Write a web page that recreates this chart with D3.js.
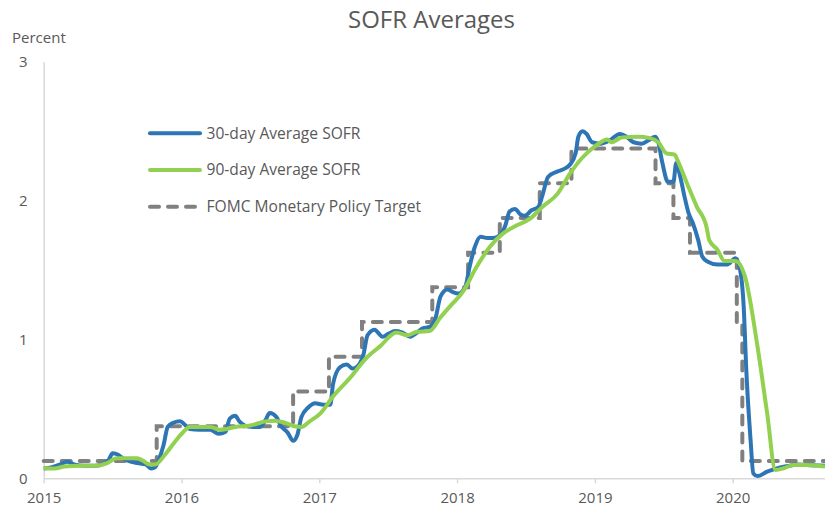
<!DOCTYPE html>
<html>
<head>
<meta charset="utf-8">
<script src="https://cdn.jsdelivr.net/npm/d3@7"></script>
<style>
  html, body { margin: 0; padding: 0; background: #fff; }
  svg { display: block; }
  text { font-family: 'Open Sans', 'DejaVu Sans', sans-serif; fill: #595959; }
</style>
</head>
<body>
<svg id="chart" width="825" height="510"></svg>
<script>
// ---- Data (x = decimal year as positioned on the chart, y = percent) ----
const sofr30Years = [2015.00,2015.06,2015.12,2015.17,2015.22,2015.30,2015.37,2015.42,2015.47,2015.50,2015.54,2015.58,2015.63,2015.68,2015.74,2015.78,2015.81,2015.83,2015.87,2015.90,2015.94,2015.99,2016.03,2016.06,2016.13,2016.21,2016.27,2016.32,2016.35,2016.39,2016.42,2016.46,2016.52,2016.57,2016.61,2016.64,2016.69,2016.72,2016.77,2016.81,2016.84,2016.87,2016.92,2016.97,2017.03,2017.08,2017.10,2017.15,2017.20,2017.24,2017.28,2017.32,2017.35,2017.40,2017.46,2017.50,2017.55,2017.60,2017.66,2017.71,2017.75,2017.80,2017.84,2017.88,2017.93,2017.97,2018.01,2018.06,2018.09,2018.13,2018.17,2018.22,2018.26,2018.31,2018.35,2018.38,2018.42,2018.46,2018.49,2018.54,2018.59,2018.62,2018.66,2018.73,2018.78,2018.82,2018.86,2018.88,2018.91,2018.94,2018.98,2019.04,2019.11,2019.18,2019.23,2019.28,2019.34,2019.39,2019.44,2019.46,2019.49,2019.53,2019.57,2019.59,2019.62,2019.65,2019.68,2019.71,2019.75,2019.78,2019.82,2019.89,2019.96,2020.02,2020.05,2020.08,2020.10,2020.13,2020.15,2020.18,2020.25,2020.32,2020.40,2020.47,2020.54,2020.67];
const sofr30Values = [0.07,0.08,0.10,0.12,0.10,0.09,0.09,0.10,0.13,0.18,0.17,0.14,0.12,0.11,0.10,0.07,0.08,0.12,0.24,0.37,0.40,0.41,0.38,0.355,0.35,0.35,0.32,0.335,0.43,0.45,0.41,0.38,0.37,0.37,0.42,0.47,0.44,0.38,0.33,0.27,0.31,0.44,0.51,0.54,0.53,0.53,0.68,0.80,0.82,0.79,0.81,0.89,1.03,1.07,1.02,1.04,1.06,1.05,1.02,1.05,1.08,1.09,1.14,1.31,1.36,1.34,1.33,1.38,1.52,1.67,1.74,1.73,1.73,1.75,1.82,1.92,1.94,1.90,1.89,1.93,1.955,2.04,2.17,2.21,2.23,2.26,2.34,2.46,2.50,2.48,2.42,2.41,2.435,2.48,2.46,2.42,2.41,2.435,2.46,2.42,2.27,2.135,2.135,2.27,2.17,2.03,1.91,1.84,1.715,1.595,1.56,1.54,1.54,1.585,1.52,1.235,0.755,0.275,0.035,0.016,0.048,0.072,0.088,0.10,0.095,0.09];

const sofr90Years = [2015.00,2015.08,2015.15,2015.26,2015.37,2015.46,2015.53,2015.63,2015.68,2015.72,2015.77,2015.81,2015.88,2015.95,2016.01,2016.06,2016.13,2016.21,2016.28,2016.39,2016.50,2016.61,2016.68,2016.75,2016.82,2016.87,2016.93,2017.01,2017.10,2017.22,2017.35,2017.44,2017.56,2017.64,2017.71,2017.80,2017.88,2017.95,2018.04,2018.14,2018.24,2018.33,2018.43,2018.53,2018.62,2018.73,2018.82,2018.91,2019.00,2019.09,2019.12,2019.20,2019.31,2019.40,2019.46,2019.52,2019.58,2019.60,2019.67,2019.74,2019.81,2019.83,2019.89,2019.94,2020.02,2020.09,2020.18,2020.25,2020.31,2020.37,2020.44,2020.54,2020.67];
const sofr90Values = [0.075,0.07,0.085,0.09,0.09,0.11,0.145,0.145,0.145,0.127,0.10,0.10,0.17,0.26,0.33,0.37,0.37,0.37,0.35,0.37,0.38,0.41,0.415,0.40,0.375,0.37,0.41,0.47,0.59,0.72,0.875,0.95,1.05,1.03,1.055,1.06,1.16,1.24,1.34,1.52,1.67,1.76,1.82,1.87,1.955,2.05,2.195,2.31,2.39,2.44,2.42,2.455,2.46,2.45,2.42,2.34,2.33,2.29,2.12,1.955,1.81,1.715,1.645,1.565,1.565,1.45,0.95,0.47,0.06,0.072,0.096,0.096,0.084];

const fomcYears  = [2015.00,2015.82,2016.81,2017.07,2017.31,2017.82,2018.08,2018.31,2018.60,2018.83,2019.44,2019.57,2019.69,2020.03,2020.07,2020.67];
const fomcValues = [0.125,0.375,0.625,0.875,1.125,1.375,1.625,1.875,2.125,2.375,2.125,1.875,1.625,1.125,0.125,0.125];

const xTickYears = [2015,2016,2017,2018,2019,2020];
const yTickValues = [0,1,2,3];
const seriesNames = ["30-day Average SOFR","90-day Average SOFR","FOMC Monetary Policy Target"];

// ---- Chart ----
const svg = d3.select("#chart");
const x = d3.scaleLinear().domain([2015, 2020.67]).range([43.7, 825]);
const y = d3.scaleLinear().domain([0, 3]).range([478.3, 61.7]);

const axisColor = "#D9D9D9";

// Y axis
const yAxis = svg.append("g").attr("transform", "translate(43.7,0)")
  .call(d3.axisLeft(y).tickValues(yTickValues).tickSize(0).tickPadding(16).tickFormat(d3.format("d")));
yAxis.select(".domain").attr("stroke", axisColor).attr("stroke-width", 1.5);
yAxis.selectAll("text").style("font-size", "15px").attr("fill", "#595959");

// X axis
const xAxis = svg.append("g").attr("transform", "translate(0,478.3)")
  .call(d3.axisBottom(x).tickValues(xTickYears).tickSize(5).tickPadding(9).tickFormat(d3.format("d")).tickSizeOuter(0));
xAxis.select(".domain").attr("stroke", axisColor).attr("stroke-width", 1.5);
xAxis.selectAll(".tick line").attr("stroke", axisColor).attr("stroke-width", 1.5);
xAxis.selectAll("text").style("font-size", "15px").attr("fill", "#595959");

// Lines
const zip = (xs, ys) => xs.map((v, i) => ({ x: v, y: ys[i] }));
const smooth = d3.line().x(d => x(d.x)).y(d => y(d.y)).curve(d3.curveMonotoneX);
const step = d3.line().x(d => x(d.x)).y(d => y(d.y)).curve(d3.curveStepAfter);

const colors = ["#2E75B6", "#92D050", "#808080"];

svg.append("path").datum(zip(fomcYears, fomcValues))
  .attr("d", step).attr("fill", "none").attr("stroke", colors[2])
  .attr("stroke-width", 4).attr("stroke-dasharray", "9,9").attr("stroke-linecap", "round");

svg.append("path").datum(zip(sofr30Years, sofr30Values))
  .attr("d", smooth).attr("fill", "none").attr("stroke", colors[0])
  .attr("stroke-width", 4).attr("stroke-linejoin", "round");

svg.append("path").datum(zip(sofr90Years, sofr90Values))
  .attr("d", smooth).attr("fill", "none").attr("stroke", colors[1])
  .attr("stroke-width", 4).attr("stroke-linejoin", "round");

// Title & axis label
svg.append("text").attr("x", 431.5).attr("y", 28).attr("text-anchor", "middle")
  .style("font-size", "24px").text("SOFR Averages");
svg.append("text").attr("x", 12).attr("y", 43).style("font-size", "15px").text("Percent");

// Legend
const legendY = [133.3, 170, 206.7];
const legend = svg.append("g");
seriesNames.forEach((name, i) => {
  const ln = legend.append("line").attr("x1", 150).attr("x2", 200)
    .attr("y1", legendY[i]).attr("y2", legendY[i])
    .attr("stroke", colors[i]).attr("stroke-width", 4).attr("stroke-linecap", "round");
  if (i === 2) ln.attr("stroke-dasharray", "9,9");
  legend.append("text").attr("x", 206.5).attr("y", legendY[i]).attr("dy", "0.35em")
    .style("font-size", "15.6px").text(name);
});
</script>
</body>
</html>
